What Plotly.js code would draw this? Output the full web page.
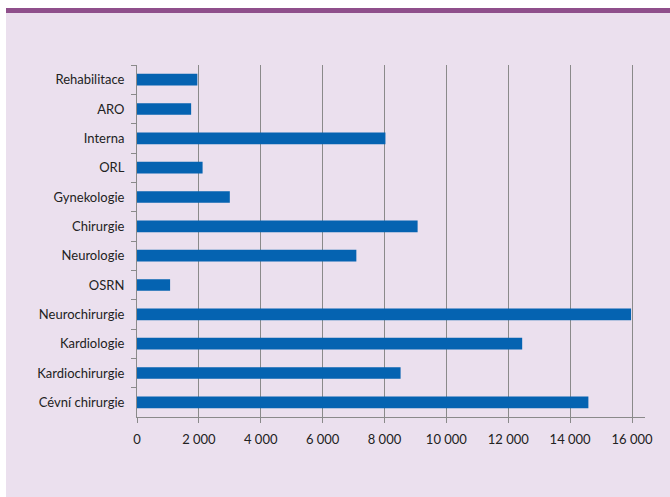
<!DOCTYPE html>
<html><head><meta charset="utf-8">
<script src="https://cdn.plot.ly/plotly-3.0.1.min.js"></script>
<style>
html,body{margin:0;padding:0;background:#fff;}
#wrap{position:relative;width:670px;height:497px;background:#fff;overflow:hidden;}
#bg{position:absolute;left:6px;top:8px;right:0;bottom:0;background:#EBE0EE;border-top:5px solid #8F4F8B;}
#chart{position:absolute;left:0;top:0;width:670px;height:497px;}
</style></head>
<body>
<div id="wrap"><div id="bg"></div><div id="chart"></div></div>
<script>
const categories = ["Rehabilitace","ARO","Interna","ORL","Gynekologie","Chirurgie","Neurologie","OSRN","Neurochirurgie","Kardiologie","Kardiochirurgie","Cévní chirurgie"];
const values = [1950,1750,8030,2120,3000,9070,7090,1070,15970,12450,8520,14590];

const trace = {
  type:'bar', orientation:'h',
  x: values, y: categories,
  width: 0.4,
  marker:{color:'#0563B1', line:{width:0}},
  hoverinfo:'x+y'
};
const layout = {
  width:670, height:497,
  margin:{l:137, r:25, t:65, b:80},
  paper_bgcolor:'rgba(0,0,0,0)', plot_bgcolor:'rgba(0,0,0,0)',
  separators:', ',
  font:{family:'Lato, "Liberation Sans", sans-serif', size:13, color:'#222'},
  showlegend:false,
  xaxis:{range:[0,16420], dtick:2000, tick0:0, separatethousands:true, exponentformat:'none',
    showgrid:true, gridcolor:'#8a8a8a', gridwidth:1,
    showline:true, linecolor:'#8a8a8a', linewidth:1,
    ticks:'outside', ticklen:5, tickcolor:'#8a8a8a', ticklabelstandoff:5,
    zeroline:false, tickfont:{size:13, color:'#222'}},
  yaxis:{type:'category', autorange:'reversed',
    showgrid:false, showline:true, linecolor:'#8a8a8a', linewidth:1,
    ticks:'outside', ticklen:5, tickcolor:'#8a8a8a', tickson:'boundaries', ticklabelstandoff:9,
    zeroline:false, tickfont:{size:13, color:'#222'}}
};
Plotly.newPlot('chart',[trace],layout,{displayModeBar:false, staticPlot:true});
</script>
</body></html>
